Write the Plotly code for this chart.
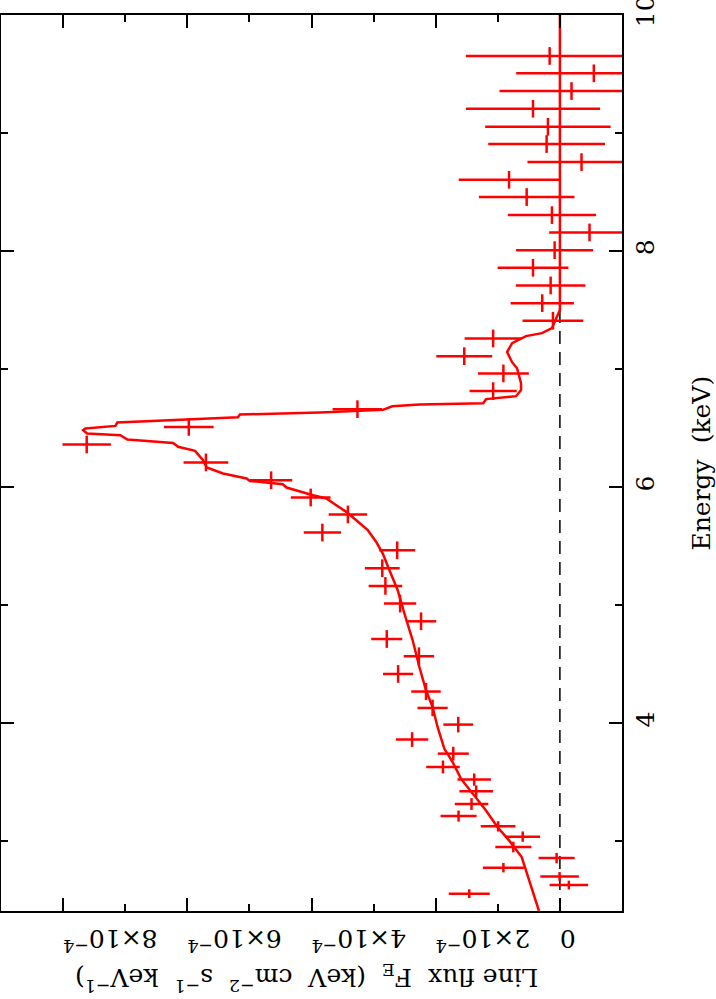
import numpy as np
import plotly.graph_objects as go

# binned spectrum points (energy in keV, flux in units of 1e-4)
energy = [9.653, 9.506, 9.356, 9.206, 9.053, 8.907, 8.754, 8.604, 8.458, 8.305,
          8.158, 8.008, 7.859, 7.709, 7.559, 7.410, 7.260, 7.110, 6.964, 6.814,
          6.661, 6.511, 6.362, 6.210, 6.059, 5.913, 5.769, 5.616, 5.466, 5.314,
          5.164, 5.014, 4.864, 4.714, 4.568, 4.418, 4.269, 4.130, 3.989, 3.862,
          3.743, 3.630, 3.523, 3.424, 3.316, 3.214, 3.127, 3.040, 2.952, 2.858,
          2.777, 2.703, 2.630, 2.557]
energy_halfwidth = [0.075] * 36 + [0.072, 0.070, 0.066, 0.062, 0.058, 0.055, 0.052, 0.050,
                                   0.050, 0.047, 0.044, 0.044, 0.045, 0.044, 0.040, 0.037,
                                   0.037, 0.037]
flux = [0.165, -0.546, -0.187, 0.433, 0.193, 0.214, -0.348, 0.819, 0.535, 0.128,
        -0.477, 0.085, 0.433, 0.149, 0.284, 0.112, 1.075, 1.540, 0.910, 1.075,
        3.260, 5.976, 7.620, 5.700, 4.650, 4.013, 3.414, 3.825, 2.620, 2.860,
        2.810, 2.573, 2.236, 2.788, 2.270, 2.605, 2.156, 2.050, 1.637, 2.380,
        1.717, 1.883, 1.380, 1.348, 1.423, 1.632, 0.995, 0.599, 0.750, 0.053,
        0.910, 0.005, -0.144, 1.460]
flux_err = [1.35, 1.25, 1.16, 1.08, 1.01, 0.94, 0.87, 0.81, 0.77, 0.71,
            0.65, 0.62, 0.57, 0.56, 0.51, 0.49, 0.46, 0.45, 0.41, 0.38,
            0.40, 0.40, 0.39, 0.36, 0.34, 0.32, 0.31, 0.30, 0.29, 0.28,
            0.27, 0.26, 0.245, 0.25, 0.245, 0.243, 0.237, 0.243, 0.24, 0.26,
            0.25, 0.27, 0.27, 0.27, 0.27, 0.29, 0.28, 0.28, 0.29, 0.29,
            0.33, 0.31, 0.31, 0.33]

# folded model curve
model_energy = [10.0, 7.50, 7.443, 7.39, 7.347, 7.305, 7.28, 7.22, 7.144, 7.059,
                7.008, 6.881, 6.822, 6.771, 6.746, 6.712, 6.70, 6.685, 6.655, 6.633,
                6.616, 6.593, 6.548, 6.519, 6.497, 6.483, 6.455, 6.441, 6.404, 6.375,
                6.342, 6.308, 6.229, 6.167, 6.116, 6.074, 6.053, 6.025, 5.997, 5.932,
                5.904, 5.847, 5.791, 5.72, 5.636, 5.536, 5.438, 5.297, 5.127, 4.93,
                4.703, 4.477, 4.28, 4.138, 3.969, 3.786, 3.672, 3.531, 3.404, 3.263,
                3.121, 3.008, 2.867, 2.669, 2.41]
model_flux = [0.0, 0.0, 0.048, 0.096, 0.128, 0.289, 0.546, 0.77, 0.85, 0.77,
              0.69, 0.626, 0.626, 0.706, 1.188, 1.236, 2.26, 2.70, 2.85, 3.87,
              5.152, 5.185, 7.127, 7.159, 7.64, 7.677, 7.613, 7.079, 6.966, 6.228,
              6.148, 5.875, 5.746, 5.687, 5.425, 5.045, 4.992, 4.462, 4.403, 3.976,
              3.761, 3.60, 3.44, 3.279, 3.093, 2.958, 2.852, 2.745, 2.612, 2.504,
              2.371, 2.263, 2.156, 2.05, 1.97, 1.862, 1.728, 1.594, 1.408, 1.193,
              1.006, 0.819, 0.615, 0.498, 0.337]

flux_ticks = [0, 2e-4, 4e-4, 6e-4, 8e-4]
flux_ticktext = ["0", "2×10<sup>−4</sup>", "4×10<sup>−4</sup>", "6×10<sup>−4</sup>", "8×10<sup>−4</sup>"]
energy_ticks = [4, 6, 8, 10]

scale = 1e-4
flux_v = np.array(flux) * scale
flux_err_v = np.array(flux_err) * scale
model_flux_v = np.array(model_flux) * scale

RED = "#ff0000"
FONT = "DejaVu Serif"
SP = "\u00a0\u00a0"  # wide word gaps as in the original

fig = go.Figure()

fig.add_shape(type="line", xref="x", yref="paper", x0=0, x1=0, y0=0, y1=1,
              line=dict(color="black", width=1.5, dash="13px,8px"), layer="below")

fig.add_trace(go.Scatter(
    x=model_flux_v, y=model_energy, mode="lines",
    line=dict(color=RED, width=2.5), showlegend=False,
))

fig.add_trace(go.Scatter(
    x=flux_v, y=energy, mode="markers",
    marker=dict(size=1, color="rgba(0,0,0,0)"),
    error_x=dict(type="data", array=flux_err_v, color=RED, thickness=2.5, width=0),
    error_y=dict(type="data", array=energy_halfwidth, color=RED, thickness=2.5, width=0),
    showlegend=False,
))

fig.update_xaxes(
    range=[9.0e-4, -1.0e-4], tickvals=flux_ticks, ticktext=flux_ticktext,
    tickangle=180, ticks="inside", ticklen=13, tickwidth=1.5, tickcolor="black",
    minor=dict(ticks="inside", ticklen=7, dtick=1e-4, tickwidth=1.5, tickcolor="black"),
    showline=True, linecolor="black", linewidth=1.5, mirror="ticks",
    showgrid=False, zeroline=False, automargin=False, ticklabelstandoff=12,
    tickfont=dict(family=FONT, size=25, color="black"),
)
fig.update_yaxes(
    range=[2.41, 10.0], tickvals=energy_ticks, side="right",
    tickangle=-90, ticks="inside", ticklen=13, tickwidth=1.5, tickcolor="black",
    minor=dict(ticks="inside", ticklen=7, dtick=1, tickwidth=1.5, tickcolor="black"),
    showline=True, linecolor="black", linewidth=1.5, mirror="ticks",
    showgrid=False, zeroline=False, automargin=False, ticklabeloverflow="allow",
    tickfont=dict(family=FONT, size=25, color="black"),
)

fig.add_annotation(
    text="Energy" + SP + "(keV)", xref="paper", yref="paper", x=1.128, y=0.5,
    textangle=-90, showarrow=False, xanchor="center", yanchor="middle",
    font=dict(family=FONT, size=25, color="black"),
)
fig.add_annotation(
    text=SP.join(["Line flux", "F<sub>E</sub>", "(keV", "cm<sup>−2</sup>",
                  "s<sup>−1</sup>", "keV<sup>−1</sup>)"]),
    xref="paper", yref="paper", x=0.493, y=-0.074,
    textangle=180, showarrow=False, xanchor="center", yanchor="middle",
    font=dict(family=FONT, size=25, color="black"),
)

fig.update_layout(
    width=716, height=999,
    margin=dict(l=1, r=94, t=15, b=88, autoexpand=False),
    plot_bgcolor="white", paper_bgcolor="white",
)

# drop the browser's default page margin so the figure sits at the window corner
fig.write_html("out.html", config={"displayModeBar": False},
               post_script="document.body.style.margin = '0';")
